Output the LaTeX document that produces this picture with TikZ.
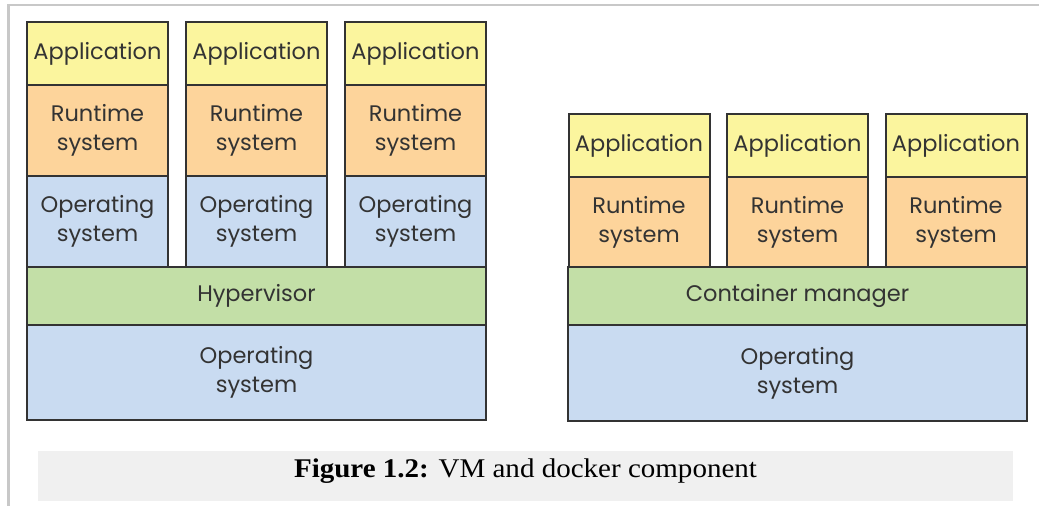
\documentclass[tikz,border=0pt]{standalone}
\usepackage{fontspec}
\setmainfont{Liberation Serif}
\newfontfamily\layerfont{Poppins}
\definecolor{appc}{HTML}{FBF59E}
\definecolor{rtc}{HTML}{FDD49B}
\definecolor{osc}{HTML}{C9DBF1}
\definecolor{mgrc}{HTML}{C3DFA7}
\definecolor{edgec}{HTML}{333333}
\definecolor{framec}{HTML}{C8C8C8}
\definecolor{capc}{HTML}{F0F0F0}
\tikzset{
  layer/.style={draw=edgec, line width=2pt, inner sep=0pt, outer sep=0pt,
    align=center, text=edgec,
    font=\layerfont\fontsize{22.5}{29}\selectfont},
  appbox/.style={layer, fill=appc, minimum width=141pt, minimum height=63pt},
  rtbox/.style={layer, fill=rtc, minimum width=141pt, minimum height=91pt},
  osbox/.style={layer, fill=osc, minimum width=141pt, minimum height=91pt},
  wide/.style={layer, minimum width=459pt},
}
\begin{document}
\begin{tikzpicture}[x=1pt, y=-1pt]
\useasboundingbox (0,0) rectangle (1039,506);
% page frame
\draw[framec, line width=2.5pt] (8.5,506) -- (8.5,5) -- (1039,5);

% virtual machines
\node[appbox] (vapp1) at (97.5,53.5) {Application};
\node[appbox] (vapp2) at (256.5,53.5) {Application};
\node[appbox] (vapp3) at (415.5,53.5) {Application};
\node[rtbox] (vrt1) at (97.5,130.5) {Runtime\\system};
\node[rtbox] (vrt2) at (256.5,130.5) {Runtime\\system};
\node[rtbox] (vrt3) at (415.5,130.5) {Runtime\\system};
\node[osbox] (vos1) at (97.5,221.5) {Operating\\system};
\node[osbox] (vos2) at (256.5,221.5) {Operating\\system};
\node[osbox] (vos3) at (415.5,221.5) {Operating\\system};
\node[wide, fill=mgrc, minimum height=58pt] (hyp) at (256.5,296) {Hypervisor};
\node[wide, fill=osc, minimum height=95pt] (vhost) at (256.5,372.5) {Operating\\system};

% containers
\node[appbox] (capp1) at (639,145.5) {Application};
\node[appbox] (capp2) at (797.5,145.5) {Application};
\node[appbox] (capp3) at (956,145.5) {Application};
\node[rtbox, minimum height=90pt] (crt1) at (639,222) {Runtime\\system};
\node[rtbox, minimum height=90pt] (crt2) at (797.5,222) {Runtime\\system};
\node[rtbox, minimum height=90pt] (crt3) at (956,222) {Runtime\\system};
\node[wide, fill=mgrc, minimum height=58pt] (cmgr) at (797.5,296) {Container manager};
\node[wide, fill=osc, minimum height=96pt] (chost) at (797.5,373) {Operating\\system};

% caption
\fill[capc] (38,451) rectangle (1013,501);
\node[font=\fontsize{27}{30}\selectfont, inner sep=0pt] (cap) at (525.5,471.5)
  {\scalebox{1.075}[1]{\textbf{Figure 1.2:} VM and docker component}};
\end{tikzpicture}
\end{document}
